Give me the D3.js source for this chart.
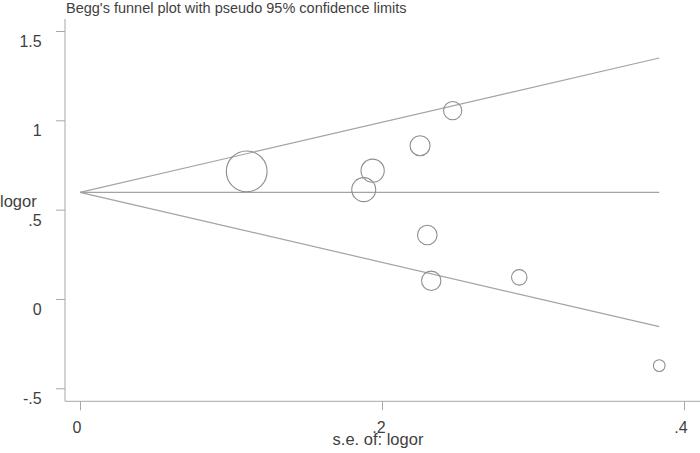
<!DOCTYPE html>
<html>
<head>
<meta charset="utf-8">
<script src="https://cdn.jsdelivr.net/npm/d3@7"></script>
<style>
  html, body { margin: 0; padding: 0; background: #fff; }
  svg { display: block; font-family: 'Liberation Sans', Arial, sans-serif; }
</style>
</head>
<body>
<svg id="svg" width="700" height="453"></svg>
<script>
'use strict';

// Study estimates: standard error and log odds ratio
const se = [0.1104, 0.1938, 0.1879, 0.2252, 0.2468, 0.2300, 0.2326, 0.2909, 0.3836];
const logor = [0.714, 0.718, 0.612, 0.858, 1.054, 0.358, 0.102, 0.121, -0.373];

const xTicks = [0, 0.2, 0.4];
const xTickLabels = ['0', '.2', '.4'];
const yTicks = [-0.5, 0, 0.5, 1, 1.5];
const yTickLabels = ['-.5', '0', '.5', '1', '1.5'];

const TEXT_COLOR = '#3f3f3f';
const LINE_COLOR = '#a3a3a3';
const AXIS_COLOR = '#a8a8a8';
const CIRCLE_COLOR = '#8e8e8e';

const svg = d3.select('#svg');

const x = d3.scaleLinear().domain([0, 0.4]).range([80, 684]);
const y = d3.scaleLinear().domain([-0.5, 1.5]).range([388.3, 31]);

const studies = se.map((s, i) => ({ se: s, logor: logor[i], w: 1 / (s * s) }));

// Fixed-effect pooled estimate (inverse-variance weights)
const theta = d3.sum(studies, d => d.w * d.logor) / d3.sum(studies, d => d.w);
const seMax = d3.max(se);

// Marker area proportional to weight
const r = d3.scaleSqrt()
  .domain([0, d3.max(studies, d => d.w)])
  .range([0, 2.25 / d3.min(se)]);

// Title
svg.append('text')
  .attr('x', 66)
  .attr('y', 12.5)
  .attr('font-size', 14.5)
  .attr('fill', TEXT_COLOR)
  .text("Begg's funnel plot with pseudo 95% confidence limits");

// Axes
const yAxis = svg.append('g')
  .attr('transform', 'translate(65,0)')
  .call(d3.axisLeft(y).tickValues(yTicks).tickSize(9).tickPadding(14.3)
    .tickFormat((d, i) => yTickLabels[i]));
yAxis.select('.domain').remove();
yAxis.selectAll('line').attr('stroke', AXIS_COLOR);
yAxis.selectAll('text')
  .attr('font-size', 16)
  .attr('font-family', null)
  .attr('fill', TEXT_COLOR)
  .attr('dy', 15.5);

const xAxis = svg.append('g')
  .attr('transform', 'translate(0,401.3)')
  .call(d3.axisBottom(x).tickValues(xTicks).tickSize(9).tickPadding(11)
    .tickFormat((d, i) => xTickLabels[i]));
xAxis.select('.domain').remove();
xAxis.selectAll('line').attr('stroke', AXIS_COLOR);
xAxis.selectAll('text')
  .attr('font-size', 16)
  .attr('font-family', null)
  .attr('fill', TEXT_COLOR)
  .attr('dx', -3.5);

// axis lines
svg.append('line')
  .attr('x1', 65).attr('x2', 65)
  .attr('y1', 19).attr('y2', 401.3)
  .attr('stroke', AXIS_COLOR);
svg.append('line')
  .attr('x1', 65).attr('x2', 700)
  .attr('y1', 401.3).attr('y2', 401.3)
  .attr('stroke', AXIS_COLOR);

// Axis titles
svg.append('text')
  .attr('x', 378)
  .attr('y', 445)
  .attr('text-anchor', 'middle')
  .attr('font-size', 16.5)
  .attr('fill', TEXT_COLOR)
  .text('s.e. of: logor');

svg.append('text')
  .attr('x', 0)
  .attr('y', 207)
  .attr('font-size', 16.5)
  .attr('fill', TEXT_COLOR)
  .text('logor');

// Funnel: pooled estimate and pseudo 95% limits
const funnel = [
  [[0, theta], [seMax, theta + 1.96 * seMax]],
  [[0, theta], [seMax, theta]],
  [[0, theta], [seMax, theta - 1.96 * seMax]],
];
const line = d3.line().x(d => x(d[0])).y(d => y(d[1]));

svg.append('g')
  .selectAll('path')
  .data(funnel)
  .join('path')
  .attr('d', line)
  .attr('fill', 'none')
  .attr('stroke', LINE_COLOR)
  .attr('stroke-width', 1.2);

// Study markers
svg.append('g')
  .selectAll('circle')
  .data(studies)
  .join('circle')
  .attr('cx', d => x(d.se))
  .attr('cy', d => y(d.logor))
  .attr('r', d => r(d.w))
  .attr('fill', 'none')
  .attr('stroke', CIRCLE_COLOR)
  .attr('stroke-width', 1.1);
</script>
</body>
</html>
